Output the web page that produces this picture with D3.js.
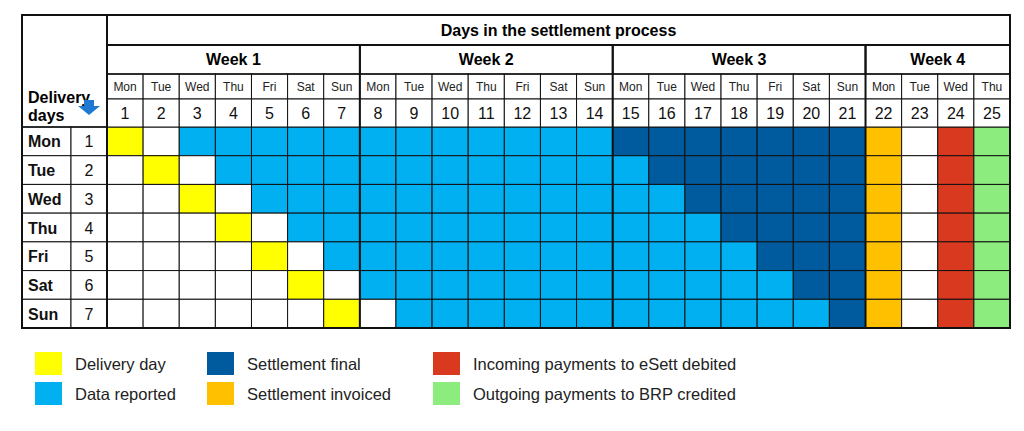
<!DOCTYPE html>
<html lang="en">
<head>
<meta charset="UTF-8">
<title>Settlement process</title>
<style>
  body { margin: 0; background: #fff; }
  text { font-family: "Liberation Sans", Arial, sans-serif; }
</style>
</head>
<body>
<div id="container"></div>
<script src="https://d3js.org/d3.v7.min.js"></script>
<script>
// data
const days = d3.range(1, 26)
const dayNames = ["Mon","Tue","Wed","Thu","Fri","Sat","Sun","Mon","Tue","Wed","Thu","Fri","Sat","Sun",
  "Mon","Tue","Wed","Thu","Fri","Sat","Sun","Mon","Tue","Wed","Thu"]
const weeks = ["Week 1", "Week 2", "Week 3", "Week 4"]
const weekStart = [1, 8, 15, 22]
const weekEnd = [7, 14, 21, 25]
const deliveryRows = ["Mon","Tue","Wed","Thu","Fri","Sat","Sun"]
const deliveryDay = [1, 2, 3, 4, 5, 6, 7]
const reportFrom = [3, 4, 5, 6, 7, 8, 9]
const reportTo = [14, 15, 16, 17, 18, 19, 20]
const finalFrom = [15, 16, 17, 18, 19, 20, 21]
const invoiceDay = 22, debitDay = 24, creditDay = 25

const colors = {
  delivery: "#ffff00", reported: "#00b0f0", final: "#005a9e",
  invoiced: "#ffc000", debited: "#d9391f", credited: "#8ced7e"
}
const legend = [
  ["delivery", "Delivery day"], ["reported", "Data reported"],
  ["final", "Settlement final"], ["invoiced", "Settlement invoiced"],
  ["debited", "Incoming payments to eSett debited"], ["credited", "Outgoing payments to BRP credited"]
]

const W = 1024, H = 431
const svg = d3.select("#container").append("svg").attr("width", W).attr("height", H)

const x = d3.scaleBand().domain(days).range([107, 1010])
const y = d3.scaleBand().domain(deliveryRows).range([127, 328])
const L = 22, C1 = 71, T = 15, yWeek = 45, yName = 74, yNum = 99

function cellColor(r, d) {
  if (d === deliveryDay[r]) return colors.delivery
  if (d >= reportFrom[r] && d <= reportTo[r]) return colors.reported
  if (d >= finalFrom[r] && d <= 21) return colors.final
  if (d === invoiceDay) return colors.invoiced
  if (d === debitDay) return colors.debited
  if (d === creditDay) return colors.credited
  return "#fff"
}

// cells
deliveryRows.forEach((name, r) => {
  svg.append("g").selectAll("rect").data(days).join("rect")
    .attr("x", d => x(d)).attr("y", y(name))
    .attr("width", x.bandwidth()).attr("height", y.bandwidth())
    .attr("fill", d => cellColor(r, d))
    .attr("stroke", "#111").attr("stroke-width", 1)
})

// header cells
svg.append("g").selectAll("rect").data(days).join("rect")
  .attr("x", d => x(d)).attr("y", yName).attr("width", x.bandwidth()).attr("height", yNum - yName)
  .attr("fill", "#fff").attr("stroke", "#111")
svg.append("g").selectAll("rect").data(days).join("rect")
  .attr("x", d => x(d)).attr("y", yNum).attr("width", x.bandwidth()).attr("height", 127 - yNum)
  .attr("fill", "#fff").attr("stroke", "#111")
svg.append("g").selectAll("text").data(days).join("text")
  .attr("x", d => x(d) + x.bandwidth() / 2).attr("y", yName + 17)
  .attr("text-anchor", "middle").attr("font-size", 12).attr("fill", "#222")
  .text((d, i) => dayNames[i])
svg.append("g").selectAll("text").data(days).join("text")
  .attr("x", d => x(d) + x.bandwidth() / 2).attr("y", yNum + 20)
  .attr("text-anchor", "middle").attr("font-size", 16).attr("fill", "#111")
  .text(d => d)

// left columns
svg.append("g").selectAll("rect").data(deliveryRows).join("rect")
  .attr("x", L).attr("y", d => y(d)).attr("width", C1 - L).attr("height", y.bandwidth())
  .attr("fill", "#fff").attr("stroke", "#111")
svg.append("g").selectAll("rect").data(deliveryRows).join("rect")
  .attr("x", C1).attr("y", d => y(d)).attr("width", 107 - C1).attr("height", y.bandwidth())
  .attr("fill", "#fff").attr("stroke", "#111")
svg.append("g").selectAll("text").data(deliveryRows).join("text")
  .attr("x", L + 6).attr("y", d => y(d) + y.bandwidth() / 2 + 6)
  .attr("font-size", 16).attr("font-weight", "bold").attr("fill", "#111").text(d => d)
svg.append("g").selectAll("text").data(deliveryRows).join("text")
  .attr("x", (C1 + 107) / 2).attr("y", d => y(d) + y.bandwidth() / 2 + 6)
  .attr("text-anchor", "middle").attr("font-size", 16).attr("fill", "#111")
  .text((d, i) => deliveryDay[i])

svg.append("text").attr("x", 28).attr("y", 103).attr("font-size", 16).attr("font-weight", "bold").text("Delivery")
svg.append("text").attr("x", 28).attr("y", 121).attr("font-size", 16).attr("font-weight", "bold").text("days")
// down arrow
svg.append("path").attr("d", "M84,106 h10 v-6 h-10 z M78,106 h22 l-11,9 z").attr("fill", "#1f78d1")

// weeks
weeks.forEach((w, i) => {
  const x0 = x(weekStart[i]), x1 = x(weekEnd[i]) + x.bandwidth()
  svg.append("rect").attr("x", x0).attr("y", yWeek).attr("width", x1 - x0).attr("height", yName - yWeek)
    .attr("fill", "none").attr("stroke", "#111").attr("stroke-width", 1.5)
  svg.append("text").attr("x", (x0 + x1) / 2).attr("y", yWeek + 20).attr("text-anchor", "middle")
    .attr("font-size", 16).attr("font-weight", "bold").text(w)
  svg.append("line").attr("x1", x0).attr("x2", x0).attr("y1", yWeek).attr("y2", 328)
    .attr("stroke", "#111").attr("stroke-width", 2)
})
svg.append("text").attr("x", (107 + 1010) / 2).attr("y", T + 21).attr("text-anchor", "middle")
  .attr("font-size", 16).attr("font-weight", "bold").text("Days in the settlement process")
svg.append("line").attr("x1", 107).attr("x2", 1010).attr("y1", yWeek).attr("y2", yWeek)
  .attr("stroke", "#111").attr("stroke-width", 2)
svg.append("line").attr("x1", 107).attr("x2", 107).attr("y1", T).attr("y2", 328)
  .attr("stroke", "#111").attr("stroke-width", 2)
svg.append("line").attr("x1", L).attr("x2", 107).attr("y1", 127).attr("y2", 127)
  .attr("stroke", "#111").attr("stroke-width", 1.5)
svg.append("rect").attr("x", L).attr("y", T).attr("width", 1010 - L).attr("height", 328 - T)
  .attr("fill", "none").attr("stroke", "#111").attr("stroke-width", 2)

// legend
const lx = [35, 207, 433], ly = [352, 382]
legend.forEach(([k, label], i) => {
  const cx = lx[Math.floor(i / 2)], cy = ly[i % 2]
  svg.append("rect").attr("x", cx).attr("y", cy).attr("width", 27).attr("height", 23).attr("fill", colors[k])
  svg.append("text").attr("x", cx + 40).attr("y", cy + 18).attr("font-family", "'Open Sans', sans-serif")
    .attr("font-size", 16.5).attr("fill", "#222").text(label)
})
</script>
</body>
</html>
